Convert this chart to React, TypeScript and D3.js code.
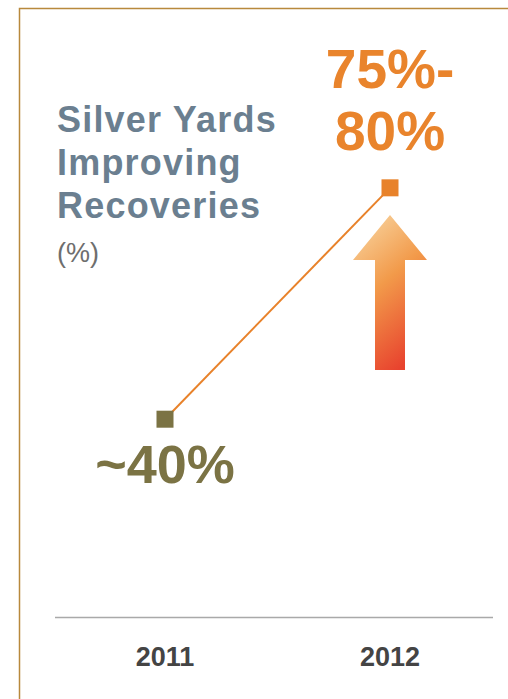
import React from 'react';
import * as d3 from 'd3';

const years = ['2011', '2012'];
const values = [40, 77.5];
const valueLabels = [['~40%'], ['75%-', '80%']];
const titleLines = ['Silver Yards', 'Improving', 'Recoveries'];
const unitLabel = '(%)';

const W = 508;
const H = 699;

const App: React.FC = () => {
  const x = d3.scalePoint<string>().domain(years).range([165, 390]);
  const y = d3.scaleLinear().domain([0, 100]).range([666, 49]);

  const line = d3.line<number>()
    .x((_, i) => x(years[i]) as number)
    .y(d => y(d));

  const markerColors = ['#7b7344', '#e8822a'];
  const labelColors = ['#7b7344', '#e9842c'];

  // arrow under the 2012 point
  const ax = x(years[1]) as number;
  const arrowTop = 215;
  const headBase = 260;
  const arrowBottom = 370;
  const arrowPath = d3.path();
  arrowPath.moveTo(ax, arrowTop);
  arrowPath.lineTo(ax + 37, headBase);
  arrowPath.lineTo(ax + 15, headBase);
  arrowPath.lineTo(ax + 15, arrowBottom);
  arrowPath.lineTo(ax - 15, arrowBottom);
  arrowPath.lineTo(ax - 15, headBase);
  arrowPath.lineTo(ax - 37, headBase);
  arrowPath.closePath();

  return (
    <svg
      width={W}
      height={H}
      style={{ position: 'absolute', left: 0, top: 0, background: '#fff' }}
      fontFamily="'Liberation Sans', Arial, sans-serif"
    >
      <defs>
        <linearGradient id="arrowGrad" x1="0.2" y1="0" x2="0.6" y2="1">
          <stop offset="0%" stopColor="#f8d29c" />
          <stop offset="45%" stopColor="#f29a4a" />
          <stop offset="100%" stopColor="#e8432e" />
        </linearGradient>
      </defs>

      {/* frame */}
      <path d={`M19.5,${H} L19.5,8.5 L${W},8.5`} fill="none" stroke="#b8893c" strokeWidth={1.5} />

      {/* title */}
      {titleLines.map((t, i) => (
        <text key={t} x={57} y={132 + i * 43} fontSize={36} fontWeight="bold" fill="#6b7f90" letterSpacing={1.2}>
          {t}
        </text>
      ))}
      <text x={57} y={262} fontSize={27} fill="#6e6e6e">{unitLabel}</text>

      {/* axis */}
      <line x1={55} x2={493} y1={617.5} y2={617.5} stroke="#a9a9a9" strokeWidth={1.5} />
      {years.map(yr => (
        <text key={yr} x={x(yr)} y={666} textAnchor="middle" fontSize={27} fontWeight="bold" fill="#444">
          {yr}
        </text>
      ))}

      <path d={arrowPath.toString()} fill="url(#arrowGrad)" />

      {/* line + markers */}
      <path d={line(values) || ''} fill="none" stroke="#e8822a" strokeWidth={2} />
      {values.map((v, i) => (
        <rect
          key={i}
          x={(x(years[i]) as number) - 8.5}
          y={y(v) - 8.5}
          width={17}
          height={17}
          fill={markerColors[i]}
        />
      ))}

      {/* value labels */}
      <text x={x(years[0])} y={y(values[0]) + 64} textAnchor="middle" fontSize={54} fontWeight="bold" fill={labelColors[0]}>
        {valueLabels[0][0]}
      </text>
      {valueLabels[1].map((t, i) => (
        <text key={t} x={x(years[1])} y={y(values[1]) - 100 + i * 62} textAnchor="middle" fontSize={55} fontWeight="bold" fill={labelColors[1]}>
          {t}
        </text>
      ))}
    </svg>
  );
};

export default App;
